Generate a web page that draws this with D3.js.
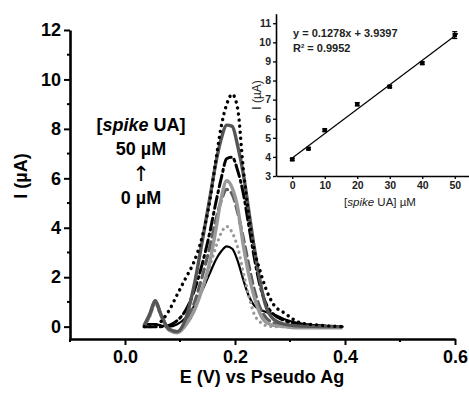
<!DOCTYPE html>
<html>
<head>
<meta charset="utf-8">
<script src="https://cdn.jsdelivr.net/npm/d3@7"></script>
<style>
  body { margin: 0; background: #fff; }
  svg { display: block; font-family: "Liberation Sans", Arial, sans-serif; }
</style>
</head>
<body>
<div id="chart"></div>
<script>
// potential grid shared by all voltammograms (V)
var potential = [0.035, 0.045, 0.055, 0.065, 0.08, 0.095, 0.11, 0.125, 0.14, 0.155, 0.165, 0.175,
                 0.185, 0.195, 0.205, 0.215, 0.225, 0.235, 0.245, 0.255, 0.27, 0.29, 0.32, 0.36, 0.395];

// current (uA) per spike level
var uA0  = [0.1, 0.1, 0.1, 0.05, 0.0, 0.1, 0.35, 0.8, 1.45, 2.2, 2.7, 3.05, 3.25, 3.15, 2.65, 1.9, 1.25, 0.85, 0.7, 0.6, 0.5, 0.3, 0.12, 0.03, 0.0];
var uA5  = [0.05, 0.4, 0.95, 0.45, -0.1, -0.2, 0.15, 0.7, 1.5, 2.5, 3.2, 3.8, 4.05, 3.8, 3.2, 2.2, 1.25, 0.5, 0.2, 0.05, 0.0, 0.0, 0.0, 0.0, 0.0];
var uA10 = [0.05, 0.45, 1.0, 0.5, -0.1, -0.2, 0.2, 0.9, 2.0, 3.3, 4.3, 5.1, 5.55, 5.35, 4.6, 3.6, 2.5, 1.5, 0.8, 0.4, 0.15, 0.05, 0.0, 0.0, 0.0];
var uA20 = [0.05, 0.5, 1.05, 0.5, -0.15, -0.25, 0.05, 0.6, 1.5, 2.7, 3.9, 5.2, 5.9, 5.6, 4.8, 3.3, 2.1, 1.2, 0.55, 0.2, 0.05, 0.0, -0.05, -0.05, -0.05];
var uA30 = [0.0, 0.0, 0.0, 0.0, 0.05, 0.25, 0.65, 1.4, 2.5, 3.9, 5.0, 6.0, 6.8, 6.85, 6.3, 5.4, 4.1, 2.8, 1.7, 1.0, 0.5, 0.25, 0.1, 0.03, 0.0];
var uA40 = [0.05, 0.5, 1.05, 0.5, -0.1, -0.2, 0.3, 1.6, 3.4, 5.3, 6.6, 7.6, 8.15, 8.1, 7.3, 6.2, 4.7, 3.2, 1.9, 0.9, 0.3, 0.1, 0.02, 0.0, 0.0];
var uA50 = [0.0, 0.0, 0.05, 0.2, 0.65, 1.3, 1.95, 2.6, 3.6, 5.2, 6.7, 8.1, 9.0, 9.4, 8.8, 6.4, 4.5, 3.1, 2.3, 1.6, 0.9, 0.55, 0.15, 0.05, 0.0];

var mainXTicks = [0.0, 0.2, 0.4, 0.6];
var mainYTicks = [0, 2, 4, 6, 8, 10, 12];

// calibration inset
var spikeConc  = [0, 5, 10, 20, 30, 40, 50];
var peakI      = [3.87, 4.43, 5.40, 6.76, 7.68, 8.91, 10.38];
var peakErr    = [0.05, 0.05, 0.06, 0.08, 0.06, 0.06, 0.18];
var fitEnds    = [[0, 3.94], [51, 10.46]];
var insetXTicks = [0, 10, 20, 30, 40, 50];
var insetYTicks = [3, 4, 5, 6, 7, 8, 9, 10, 11];

var series = [
    {y: uA0,  color: '#000000', width: 2.2, dash: null},
    {y: uA5,  color: '#9a9a9a', width: 3.2, dash: '0.1 5.6'},
    {y: uA10, color: '#5e5e5e', width: 3.2, dash: '9 5'},
    {y: uA20, color: '#999999', width: 3.4, dash: null},
    {y: uA30, color: '#000000', width: 3.0, dash: '12 4 2 4'},
    {y: uA40, color: '#555555', width: 3.4, dash: null},
    {y: uA50, color: '#000000', width: 3.4, dash: '0.1 6'}
];

var W = 469, H = 394;
var svg = d3.select('#chart').append('svg')
    .attr('width', W)
    .attr('height', H);

// main plot scales
var x = d3.scaleLinear().domain([-0.1, 0.6]).range([70, 455]);
var y = d3.scaleLinear().domain([-0.5, 12]).range([339, 30]);

// x axis
var gx = svg.append('g')
    .attr('transform', 'translate(0,339)')
    .call(d3.axisBottom(x).tickValues(mainXTicks).tickFormat(d3.format('.1f')).tickSizeInner(6).tickSizeOuter(0).tickPadding(5));
gx.selectAll('text').style('font-size', '18px').style('font-weight', 'bold').attr('fill', '#000');
gx.append('g').selectAll('line')
    .data([-0.1, 0.1, 0.3, 0.5])
    .enter().append('line')
    .attr('x1', function(d) { return x(d); })
    .attr('x2', function(d) { return x(d); })
    .attr('y2', 3)
    .attr('stroke', '#000');

// y axis
var gy = svg.append('g')
    .attr('transform', 'translate(70,0)')
    .call(d3.axisLeft(y).tickValues(mainYTicks).tickFormat(d3.format('d')).tickSizeInner(6).tickSizeOuter(0).tickPadding(3));
gy.selectAll('text').style('font-size', '18px').style('font-weight', 'bold').attr('fill', '#000');
gy.append('g').selectAll('line')
    .data([1, 3, 5, 7, 9, 11])
    .enter().append('line')
    .attr('y1', function(d) { return y(d); })
    .attr('y2', function(d) { return y(d); })
    .attr('x2', -3)
    .attr('stroke', '#000');

[gx, gy].forEach(function(g) {
    g.select('.domain').attr('stroke-width', 2.6);
    g.selectAll('line').attr('stroke-width', 2);
});

// axis titles
svg.append('text')
    .attr('x', 262).attr('y', 383)
    .attr('text-anchor', 'middle')
    .style('font-size', '18px').style('font-weight', 'bold')
    .text('E (V) vs Pseudo Ag');

svg.append('text')
    .attr('transform', 'translate(27,176) rotate(-90)')
    .attr('text-anchor', 'middle')
    .style('font-size', '18px').style('font-weight', 'bold')
    .text('I (\u00b5A)');

// annotation
var note = svg.append('g')
    .attr('text-anchor', 'middle')
    .style('font-size', '18px').style('font-weight', 'bold');
var t1 = note.append('text').attr('x', 141).attr('y', 131);
t1.append('tspan').text('[');
t1.append('tspan').style('font-style', 'italic').text('spike');
t1.append('tspan').text(' UA]');
note.append('text').attr('x', 141).attr('y', 155).text('50 \u00b5M');
note.append('text').attr('x', 141).attr('y', 181)
    .style('font-family', '"DejaVu Sans", sans-serif')
    .style('font-weight', 'normal')
    .style('font-size', '21px')
    .text('\u2191');
note.append('text').attr('x', 141).attr('y', 204).text('0 \u00b5M');

// voltammograms
var line = d3.line()
    .curve(d3.curveMonotoneX)
    .x(function(d, i) { return x(potential[i]); })
    .y(function(d) { return y(d); });

series.forEach(function(s) {
    svg.append('path')
        .datum(s.y)
        .attr('d', line)
        .attr('fill', 'none')
        .attr('stroke', s.color)
        .attr('stroke-width', s.width)
        .attr('stroke-linecap', s.dash ? 'round' : 'butt')
        .attr('stroke-linejoin', 'round')
        .attr('stroke-dasharray', s.dash);
});

// ---- inset ----
var ix = d3.scaleLinear().domain([-5, 55]).range([276, 471]);
var iy = d3.scaleLinear().domain([3, 11.5]).range([176, 13.7]);

var igx = svg.append('g')
    .attr('transform', 'translate(0,176)')
    .call(d3.axisBottom(ix).tickValues(insetXTicks).tickSizeInner(3).tickSizeOuter(0).tickPadding(3));
var igy = svg.append('g')
    .attr('transform', 'translate(276,0)')
    .call(d3.axisLeft(iy).tickValues(insetYTicks).tickSizeInner(3).tickSizeOuter(0).tickPadding(2));
[igx, igy].forEach(function(g) {
    g.select('.domain').attr('stroke-width', 1.6);
    g.selectAll('line').attr('stroke-width', 1.3);
    g.selectAll('text').style('font-size', '10.5px').style('font-weight', 'bold').attr('fill', '#222');
});

svg.append('path')
    .datum(fitEnds)
    .attr('d', d3.line()
        .x(function(d) { return ix(d[0]); })
        .y(function(d) { return iy(d[1]); }))
    .attr('stroke', '#000')
    .attr('stroke-width', 1.2)
    .attr('fill', 'none');

var pts = svg.append('g');
spikeConc.forEach(function(c, i) {
    var cx = ix(c);
    pts.append('line')
        .attr('x1', cx).attr('x2', cx)
        .attr('y1', iy(peakI[i] - peakErr[i])).attr('y2', iy(peakI[i] + peakErr[i]))
        .attr('stroke', '#000').attr('stroke-width', 1.2);
    [-1, 1].forEach(function(sg) {
        pts.append('line')
            .attr('x1', cx - 2.5).attr('x2', cx + 2.5)
            .attr('y1', iy(peakI[i] + sg * peakErr[i])).attr('y2', iy(peakI[i] + sg * peakErr[i]))
            .attr('stroke', '#000').attr('stroke-width', 1.2);
    });
    pts.append('rect')
        .attr('x', cx - 2.2).attr('y', iy(peakI[i]) - 2.2)
        .attr('width', 4.4).attr('height', 4.4)
        .attr('fill', '#000');
});

svg.append('text')
    .attr('x', 293).attr('y', 37)
    .style('font-size', '11px').style('font-weight', 'bold').attr('fill', '#222')
    .text('y = 0.1278x + 3.9397');
var r2 = svg.append('text')
    .attr('x', 293).attr('y', 52)
    .style('font-size', '11px').style('font-weight', 'bold').attr('fill', '#222');
r2.append('tspan').text('R');
r2.append('tspan').attr('dy', -4).style('font-size', '6px').text('2');
r2.append('tspan').attr('dy', 4).text(' = 0.9952');

var ixl = svg.append('text')
    .attr('x', 380).attr('y', 206)
    .attr('text-anchor', 'middle')
    .style('font-size', '11.5px').attr('fill', '#222');
ixl.append('tspan').text('[');
ixl.append('tspan').style('font-style', 'italic').text('spike');
ixl.append('tspan').text(' UA] \u00b5M');

svg.append('text')
    .attr('transform', 'translate(261,95) rotate(-90)')
    .attr('text-anchor', 'middle')
    .style('font-size', '12px').attr('fill', '#222')
    .text('I (\u00b5A)');
</script>
</body>
</html>
